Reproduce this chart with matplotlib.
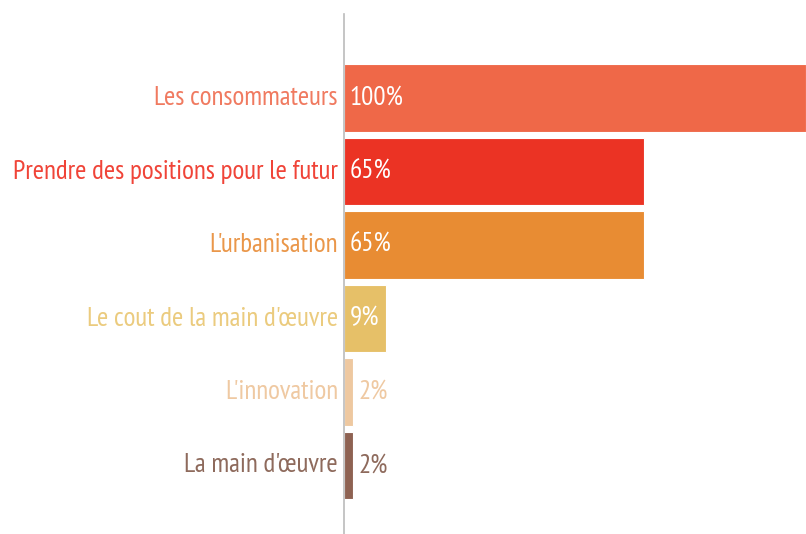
import numpy as np
import matplotlib.pyplot as plt

categories = ['Les consommateurs', 'Prendre des positions pour le futur', "L'urbanisation",
              "Le cout de la main d'\u0153uvre", "L'innovation", "La main d'\u0153uvre"]
values = [100, 65, 65, 9, 2, 2]
value_labels = ['100%', '65%', '65%', '9%', '2%', '2%']
bar_colors = ['#EF6848', '#EB3324', '#E88C33', '#E6C068', '#EEC8A0', '#8E6252']
text_colors = ['#F07A60', '#F04438', '#EA974A', '#EBCB7E', '#EFC9A2', '#8E6A5C']

plt.rcParams['font.family'] = ['PT Sans Narrow', 'DejaVu Sans']

fig = plt.figure(figsize=(8.06, 5.34), dpi=100)
ax = fig.add_axes([344/806, 0, 1 - 344/806, 1 - 14/534])

y = np.arange(len(categories))
ax.barh(y, values, height=0.925, color=bar_colors, edgecolor='white', linewidth=0.8)
ax.set_xlim(0, 100)
ax.set_ylim(5.932, -1.143)

fs = 19.5
for i in range(len(categories)):
    ax.text(-1.3, y[i], categories[i], ha='right', va='center', fontsize=fs, color=text_colors[i])
    if values[i] > 5:
        ax.text(1.2, y[i], value_labels[i], ha='left', va='center', fontsize=fs, color='white')
    else:
        ax.text(values[i] + 1.2, y[i], value_labels[i], ha='left', va='center', fontsize=fs, color=text_colors[i])

for s in ['top', 'right', 'bottom']:
    ax.spines[s].set_visible(False)
ax.spines['left'].set_color('#BBBBBB')
ax.spines['left'].set_linewidth(1.2)
ax.set_xticks([])
ax.set_yticks([])

fig.savefig('out.png', dpi=100)
